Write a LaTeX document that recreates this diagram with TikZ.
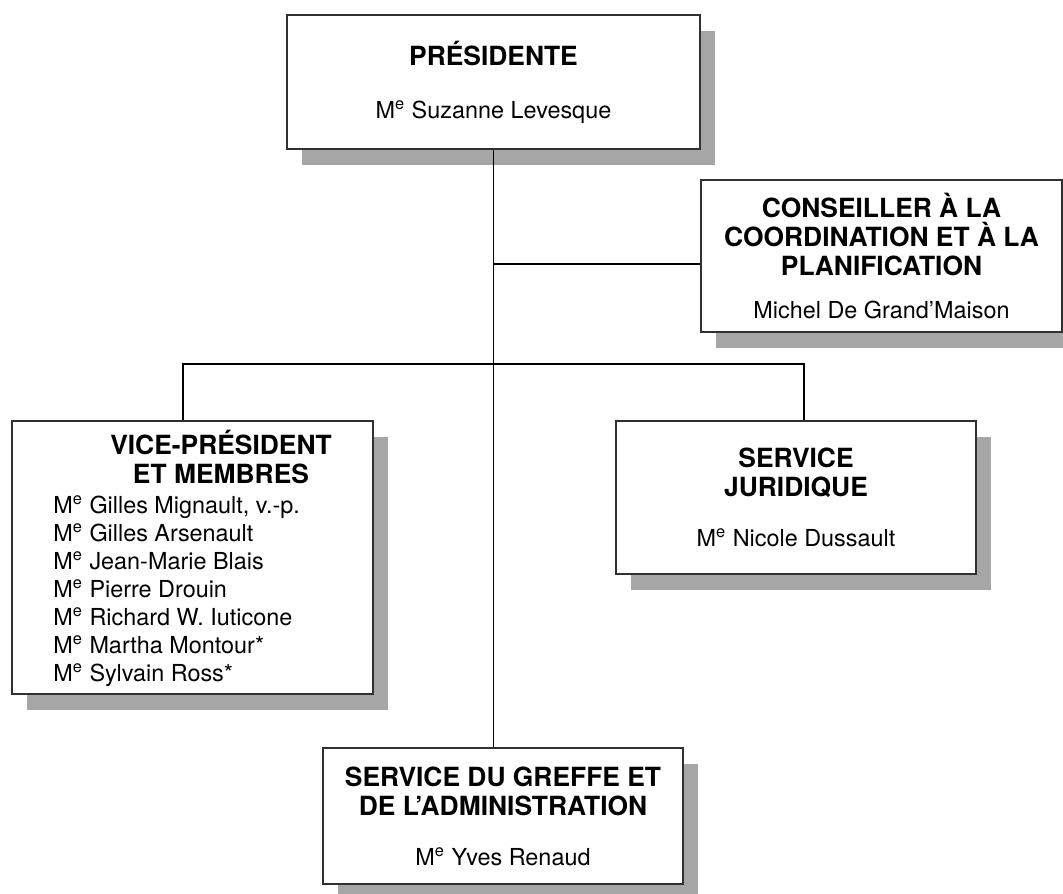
\documentclass[tikz,border=0pt]{standalone}
\usepackage{fontspec}
\setmainfont{TeX Gyre Heros}
\usetikzlibrary{shadows}

\definecolor{shade}{HTML}{A6A6A6}
\definecolor{edge}{HTML}{303030}
\newcommand{\boxtitle}{\fontsize{13.2}{14.5}\selectfont\bfseries}
\newcommand{\boxname}{\fontsize{11.7}{14.5}\selectfont}
\newcommand{\Me}{M\textsuperscript{e}}

\begin{document}
\begin{tikzpicture}[x=0.5pt, y=-0.5pt]
    \tikzstyle{block} = [rectangle,draw=edge,line width=0.9pt,fill=white,align=center,font=\boxname,inner sep=0pt,drop shadow={shadow xshift=7.5pt,shadow yshift=-8pt,fill=shade,opacity=1}]
    \tikzstyle{link} = [draw=black,line width=0.6pt]

    \useasboundingbox (0,0) rectangle (1063,893);

    \node (pres) [block, minimum width=206.5pt, minimum height=67pt] at (493.5,82)
        {\boxtitle PRÉSIDENTE\\[12pt]\boxname\Me{} Suzanne Levesque};

    \node (cons) [block, minimum width=180.5pt, minimum height=76pt] at (881.5,256)
        {\boxtitle CONSEILLER À LA\\\boxtitle COORDINATION ET À LA\\\boxtitle PLANIFICATION\\[7pt]\boxname Michel De Grand’Maison};

    \node (vp) [block, minimum width=180.5pt, minimum height=136.5pt] at (192.5,557.5) {};
    \node (vphead) [anchor=base, align=center, font=\boxtitle, inner sep=0pt] at (221,483)
        {\boxtitle VICE-PRÉSIDENT\\\boxtitle ET MEMBRES};
    \node (vplist) [anchor=base west, align=left, font=\fontsize{11.7}{14}\selectfont, inner sep=0pt] at (53,681)
        {\Me{} Gilles Mignault, v.-p.\\\Me{} Gilles Arsenault\\\Me{} Jean-Marie Blais\\\Me{} Pierre Drouin\\\Me{} Richard W. Iuticone\\\Me{} Martha Montour*\\\Me{} Sylvain Ross*};

    \node (jur) [block, minimum width=180pt, minimum height=76.5pt] at (796,497.5)
        {\boxtitle SERVICE\\\boxtitle JURIDIQUE\\[10.5pt]\boxname\Me{} Nicole Dussault};

    \node (greffe) [block, minimum width=180pt, minimum height=68pt] at (503,816)
        {\boxtitle SERVICE DU GREFFE ET\\\boxtitle DE L’ADMINISTRATION\\[10.5pt]\boxname\Me{} Yves Renaud};

    \coordinate (cj) at (493.5,264);
    \coordinate (bl) at (183,364);
    \coordinate (br) at (804,364);

    \draw [link] (pres.south) -- (pres.south |- greffe.north);
    \draw [link] (cj) -- (cj -| cons.west);
    \draw [link] (bl |- vp.north) -- (bl) -- (br) -- (br |- jur.north);

\end{tikzpicture}
\end{document}
